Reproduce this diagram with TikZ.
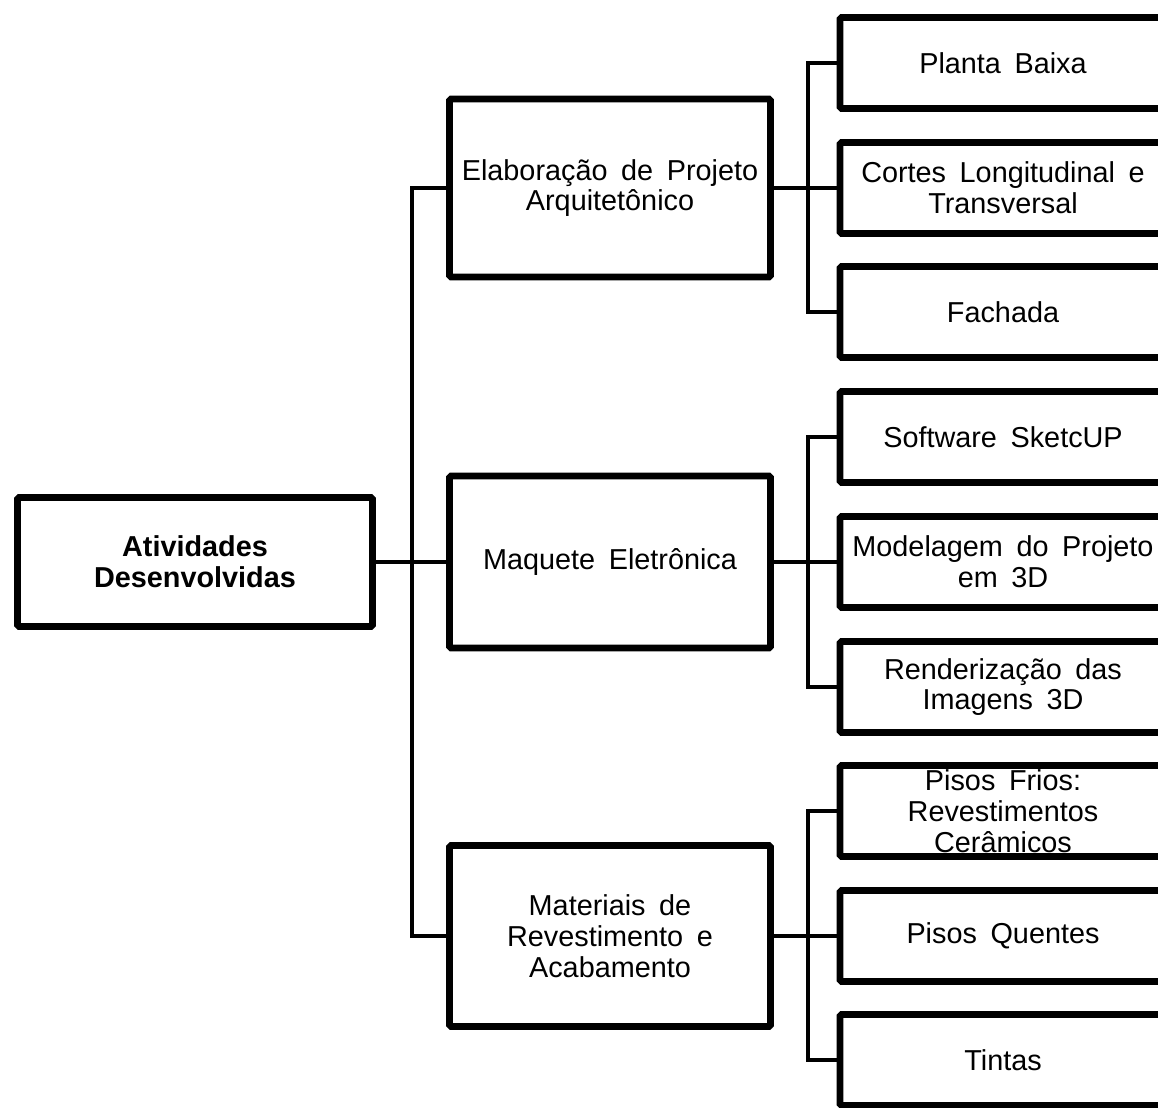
\documentclass[tikz,border=0pt]{standalone}
\usepackage{fontspec}
\setmainfont{Liberation Sans}[WordSpace=1.7]
\usetikzlibrary{shadows}
\begin{document}
\begin{tikzpicture}[x=0.02cm,y=-0.02cm]
\tikzset{
  box/.style={draw=black,fill=white,line width=3.9pt,rounded corners=1pt,
    align=center,inner sep=2pt,
    font=\fontsize{16.4pt}{17.6pt}\selectfont,
    drop shadow={shadow xshift=1.5pt,shadow yshift=-1.5pt,opacity=0.3,fill=black!60}},
  rootbox/.style={box,minimum width=7.1cm,minimum height=2.58cm,font=\fontsize{16.4pt}{17.6pt}\selectfont\bfseries},
  midbox/.style={box,minimum width=6.42cm},
  leafbox/.style={box,minimum width=6.52cm,minimum height=1.82cm},
  link/.style={line width=2.6pt},
}
\path[use as bounding box,clip] (0,0) rectangle (1158,1107);

%% Connectors
\coordinate (busA) at (412,562);
\coordinate (busB) at (808,188);
\coordinate (busC) at (808,562);
\coordinate (busD) at (808,936);

%% Root
\node[rootbox] (root) at (195,562) {Atividades\\Desenvolvidas};

%% Middle column
\node[midbox,minimum height=3.56cm] (proj) at (610,188) {Elaboração de Projeto\\Arquitetônico};
\node[midbox,minimum height=3.44cm] (maq) at (610,562) {Maquete Eletrônica};
\node[midbox,minimum height=3.62cm] (mat) at (610,936) {Materiais de\\Revestimento e\\Acabamento};

%% Right column
\node[leafbox] (planta) at (1003,63) {Planta Baixa};
\node[leafbox] (cortes) at (1003,188) {Cortes Longitudinal e\\Transversal};
\node[leafbox] (fach) at (1003,312) {Fachada};
\node[leafbox] (soft) at (1003,437) {Software SketcUP};
\node[leafbox] (model) at (1003,562) {Modelagem do Projeto\\em 3D};
\node[leafbox] (render) at (1003,687) {Renderização das\\Imagens 3D};
\node[leafbox] (frios) at (1003,811) {Pisos Frios:\\Revestimentos\\Cerâmicos};
\node[leafbox] (quentes) at (1003,936) {Pisos Quentes};
\node[leafbox] (tintas) at (1003,1060) {Tintas};

%% Root to middle
\draw[link] (root.east) -- (busA);
\draw[link] (proj.west) -| (busA) |- (mat.west);
\draw[link] (busA) -- (maq.west);

%% Middle to right
\draw[link] (proj.east) -- (busB) -- (cortes.west);
\draw[link] (planta.west) -| (busB) |- (fach.west);
\draw[link] (maq.east) -- (busC) -- (model.west);
\draw[link] (soft.west) -| (busC) |- (render.west);
\draw[link] (mat.east) -- (busD) -- (quentes.west);
\draw[link] (frios.west) -| (busD) |- (tintas.west);
\end{tikzpicture}
\end{document}
